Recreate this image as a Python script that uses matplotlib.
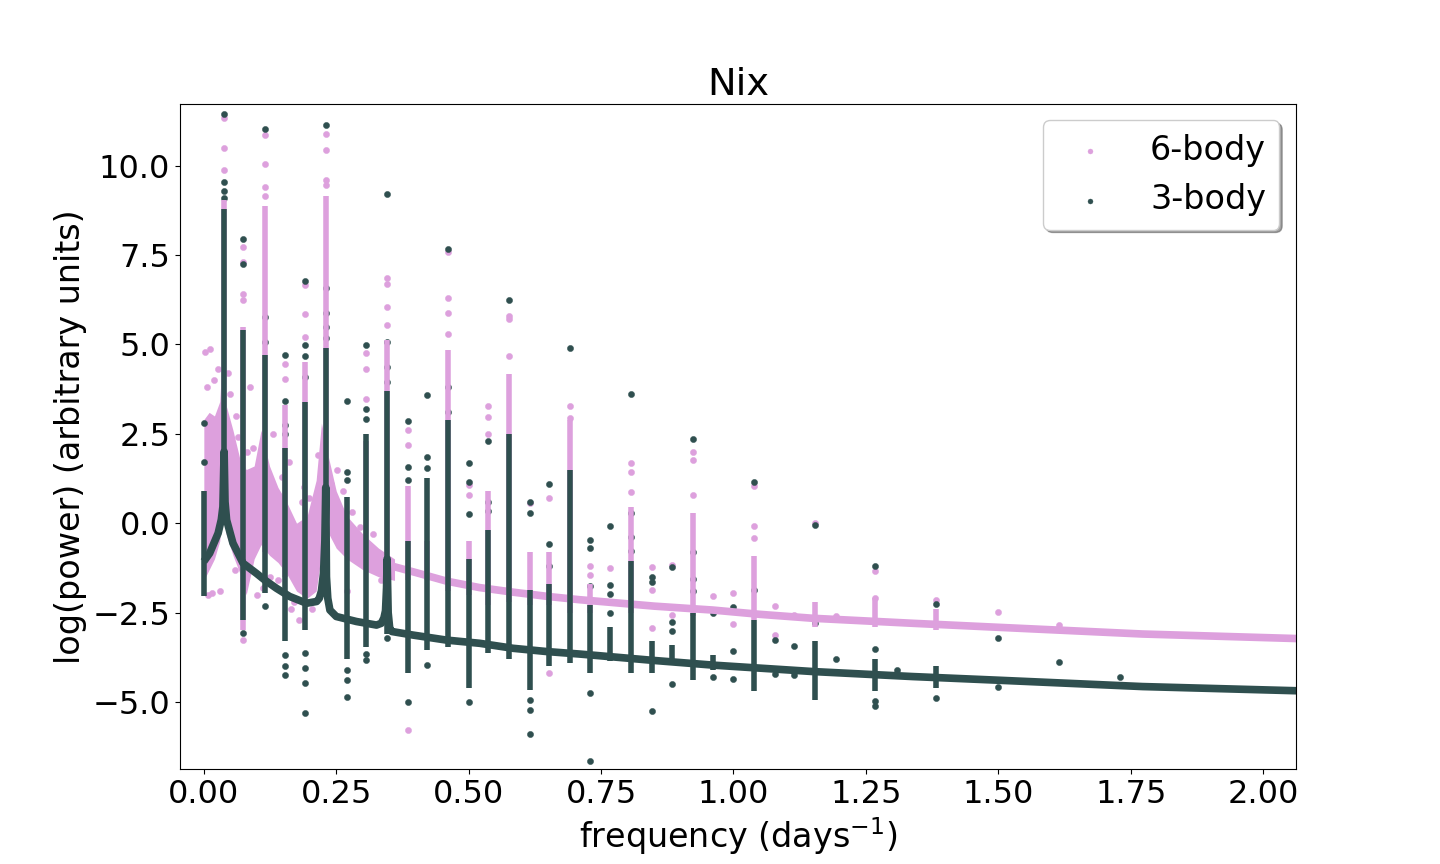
import numpy as np
import matplotlib
matplotlib.use("Agg")
import matplotlib.pyplot as plt

plt.rcParams['xtick.labelsize'] = 23
plt.rcParams['ytick.labelsize'] = 23
plt.rcParams['axes.labelsize'] = 24
plt.rcParams['axes.titlesize'] = 27.6
plt.rcParams['legend.fontsize'] = 24

PINK = '#dda0dd'   # plum
DARK = '#2f4f4f'   # darkslategray

# ---- 6-body (pink) ----
# noisy low-frequency cloud: lower / upper envelope
cloud6_f = [0.000, 0.010, 0.020, 0.030, 0.036, 0.042, 0.055, 0.068, 0.080, 0.095, 0.108, 0.124,
            0.140, 0.156, 0.175, 0.195, 0.212, 0.222, 0.236, 0.250, 0.270, 0.300, 0.330, 0.360]
cloud6_hi = [2.9, 3.1, 3.0, 3.4, 5.0, 3.3, 2.6, 1.8, 1.5, 1.6, 2.6, 1.6,
             1.0, 0.6, 0.0, 0.2, 1.2, 2.8, 1.8, 0.9, 0.2, -0.3, -0.7, -1.0]
cloud6_lo = [-1.6, -1.3, -1.0, -0.5, 0.5, -0.3, -0.9, -1.4, -2.0, -1.0, -0.6, -0.9,
             -1.1, -1.4, -1.9, -2.1, -1.9, -0.9, -0.3, -0.7, -1.0, -1.3, -1.5, -1.6]
# continuum
base6_f = [0.355, 0.40, 0.458, 0.52, 0.584, 0.65, 0.709, 0.741, 0.85, 0.961, 1.05, 1.15,
           1.338, 1.496, 1.772, 2.07]
base6_y = [-1.20, -1.38, -1.62, -1.80, -1.93, -2.05, -2.14, -2.18, -2.32, -2.43, -2.55, -2.66,
           -2.80, -2.91, -3.10, -3.23]
# dense spike columns
spike6_f = [0.0383, 0.0742, 0.1157, 0.1535, 0.1912, 0.2302, 0.307, 0.346, 0.3855, 0.4214,
            0.461, 0.500, 0.5365, 0.576, 0.615, 0.6516, 0.691, 0.730, 0.806, 0.923,
            1.038, 1.153, 1.268, 1.383]
spike6_hi = [9.05, 5.5, 8.86, 3.3, 4.5, 9.14, 2.3, 5.13, 1.03, -0.5,
             4.85, -0.5, 0.9, 4.18, -0.8, -0.8, 2.9, -1.7, 0.46, 0.29,
             -0.93, -2.2, -2.1, -2.4]
spike6_lo = [0.5, -3.0, -0.8, -1.5, -1.5, -1.0, -1.0, -1.5, -1.6, -1.6,
             -1.9, -2.0, -2.3, -2.2, -2.3, -2.3, -2.5, -2.5, -2.5, -2.6,
             -2.7, -2.9, -2.9, -3.0]
# isolated points
dots6_f = [0.0383, 0.0383, 0.0383, 0.0742, 0.0742, 0.0742, 0.0742, 0.0742,
           0.1157, 0.1157, 0.1157, 0.1157, 0.1535, 0.1535, 0.1912, 0.1912, 0.1912,
           0.2302, 0.2302, 0.2302, 0.2302, 0.307, 0.307, 0.307,
           0.346, 0.346, 0.346, 0.346, 0.3855, 0.3855, 0.3855,
           0.461, 0.461, 0.461, 0.461, 0.500, 0.500, 0.5365, 0.5365, 0.5365,
           0.576, 0.576, 0.576, 0.615, 0.6516, 0.6516, 0.691, 0.691,
           0.730, 0.730, 0.767, 0.806, 0.806, 0.806, 0.846, 0.846, 0.846, 0.884, 0.884,
           0.923, 0.923, 0.923, 0.961, 0.999, 0.999, 1.038, 1.038, 1.038,
           1.079, 1.079, 1.114, 1.153, 1.193, 1.268, 1.268, 1.383, 1.499, 1.614,
           0.002, 0.012, 0.020, 0.006, 0.045, 0.060, 0.092, 0.130, 0.160, 0.190,
           0.180, 0.205, 0.140, 0.252, 0.280, 0.320, 0.100, 0.030, 0.088, 0.270,
           0.015, 0.026, 0.050, 0.170, 0.215, 0.008, 0.064, 0.082, 0.125, 0.148,
           0.165, 0.198, 0.240, 0.262, 0.295, 0.335, 0.058, 0.112, 0.185, 0.228]
dots6_y = [11.33, 10.5, 9.88, 7.72, 7.31, 6.41, 6.25, -3.27,
           10.87, 10.05, 9.40, 9.14, 4.45, 4.03, 6.67, 5.85, 5.21,
           10.89, 10.44, 9.61, 9.47, 4.76, 4.31, 3.47,
           6.86, 6.69, 6.05, 5.55, 2.61, 2.18, -5.78,
           7.6, 6.30, 5.88, 5.3, 1.07, 0.8, 3.28, 2.96, 2.5,
           5.80, 5.72, 4.68, 0.57, 0.71, -4.19, 3.28, 2.94,
           -1.19, -1.45, -1.26, 1.68, 1.43, 0.87, -1.23, -1.87, -2.94, -1.17, -2.57,
           2.0, 1.76, 0.79, -2.03, -1.96, -2.83, 1.04, -0.09, -0.42,
           -2.33, -3.13, -2.57, 0.0, -2.6, -1.33, -2.10, -2.15, -2.49, -2.85,
           4.79, 4.87, 4.0, 3.8, 4.2, 3.0, 2.1, 2.5, 1.7, 1.0,
           -2.7, -2.4, -1.6, 1.5, 0.3, -0.3, -2.0, -1.9, 3.8, -1.9,
           -1.95, 4.3, 3.6, -2.2, 1.9, -2.0, 2.4, 2.0, -1.5, 1.3,
           -2.4, 0.7, 1.1, 0.9, -0.1, -1.6, -1.3, -1.8, 0.6, -1.1]

# ---- 3-body (dark) ----
base3_f = [0.000, 0.011, 0.027, 0.033, 0.036, 0.0375, 0.0383, 0.040, 0.043, 0.055, 0.074,
           0.099, 0.115, 0.137, 0.162, 0.194, 0.213, 0.218, 0.222, 0.226, 0.2285, 0.2302,
           0.2315, 0.234, 0.238, 0.250, 0.288, 0.326, 0.335, 0.340, 0.343, 0.345, 0.346,
           0.348, 0.351, 0.355, 0.395, 0.458, 0.521, 0.584, 0.647, 0.709, 0.741, 0.85,
           0.961, 1.15, 1.338, 1.496, 1.772, 2.07]
base3_y = [-1.07, -0.84, -0.28, 0.10, 0.46, 1.5, 2.0, 0.6, 0.09, -0.56, -1.12,
           -1.40, -1.59, -1.82, -2.05, -2.24, -2.19, -2.10, -1.90, -1.40, -0.5, 1.0,
           -1.5, -2.1, -2.43, -2.61, -2.75, -2.85, -2.80, -2.65, -2.45, -1.8, -1.0,
           -2.5, -2.95, -3.03, -3.13, -3.27, -3.36, -3.50, -3.59, -3.66, -3.70, -3.84,
           -3.97, -4.15, -4.29, -4.39, -4.57, -4.69]
spike3_f = [0.000, 0.0383, 0.0742, 0.1157, 0.1535, 0.1912, 0.2302, 0.270, 0.307, 0.346,
            0.3855, 0.4214, 0.461, 0.500, 0.5365, 0.576, 0.615, 0.6516, 0.691, 0.730,
            0.767, 0.806, 0.846, 0.884, 0.923, 0.961, 1.038, 1.153, 1.268, 1.383]
spike3_hi = [0.9, 8.8, 5.4, 4.7, 2.1, 3.4, 4.9, 0.74, 2.5, 3.7,
             -0.5, 1.26, 2.9, -1.0, -0.2, 2.5, -1.87, -1.7, 1.5, -2.3,
             -2.9, -1.07, -3.3, -3.4, -2.5, -3.7, -2.7, -3.3, -3.8, -4.0]
spike3_lo = [-2.05, 0.3, -2.7, -1.95, -3.3, -3.0, -1.8, -3.8, -3.45, -3.1,
             -4.2, -3.55, -3.45, -4.6, -3.64, -3.8, -4.67, -4.0, -3.9, -4.2,
             -3.85, -4.2, -4.2, -3.9, -4.4, -4.1, -4.7, -4.95, -4.7, -4.6]
dots3_f = [0.000, 0.000, 0.0383, 0.0383, 0.0383, 0.0383,
           0.0742, 0.0742, 0.0742, 0.1157, 0.1157, 0.1157, 0.1157,
           0.1535, 0.1535, 0.1535, 0.1535, 0.1535, 0.1535, 0.1535,
           0.1912, 0.1912, 0.1912, 0.1912, 0.1912, 0.1912, 0.1912, 0.1912,
           0.2302, 0.2302, 0.2302, 0.2302, 0.2302,
           0.270, 0.270, 0.270, 0.270, 0.270, 0.270,
           0.307, 0.307, 0.307, 0.307, 0.307,
           0.346, 0.346, 0.346, 0.346, 0.346,
           0.3855, 0.3855, 0.3855, 0.3855, 0.4214, 0.4214, 0.4214, 0.4214,
           0.461, 0.461, 0.461, 0.500, 0.500, 0.500, 0.500,
           0.5365, 0.5365, 0.5365, 0.576,
           0.615, 0.615, 0.615, 0.615, 0.615, 0.6516, 0.6516, 0.6516, 0.691,
           0.730, 0.730, 0.730, 0.730, 0.730, 0.767, 0.767, 0.767, 0.767,
           0.806, 0.806, 0.806, 0.806, 0.846, 0.846, 0.846,
           0.884, 0.884, 0.884, 0.884, 0.923, 0.923, 0.923, 0.923,
           0.961, 0.961, 0.999, 0.999, 0.999, 1.038, 1.038,
           1.079, 1.079, 1.114, 1.114, 1.153, 1.153, 1.193,
           1.268, 1.268, 1.268, 1.268, 1.308, 1.383, 1.383,
           1.499, 1.499, 1.614, 1.729]
dots3_y = [2.8, 1.7, 11.45, 9.55, 9.28, 9.1,
           7.95, 7.25, -3.08, 11.03, 5.77, 5.07, -2.31,
           4.70, 3.42, 2.75, 2.49, -3.7, -4.0, -4.25,
           6.77, 4.98, 4.67, 4.1, -3.64, -4.05, -4.47, -5.31,
           11.14, 6.58, 5.88, 5.49, 5.19,
           3.42, 1.44, 1.2, -4.1, -4.4, -4.85,
           4.98, 3.19, 2.91, -3.65, -3.83,
           9.21, 5.06, 4.37, 3.96, -3.22,
           2.85, 1.58, 1.2, -4.99, 3.59, 1.85, 1.54, -3.97,
           7.67, 3.80, 3.10, 1.68, 1.16, 0.25, -4.99,
           2.30, 0.60, 0.33, 6.24,
           0.60, 0.28, -4.95, -5.23, -5.9, 1.09, -0.59, -1.2, 4.91,
           -0.47, -0.70, -1.77, -4.76, -6.65, -0.09, -1.73, -1.99, -2.52,
           3.61, 0.29, -0.39, -0.79, -1.51, -1.65, -5.26,
           -1.22, -2.77, -3.02, -4.5, 2.35, -0.81, -1.55, -1.9,
           -2.5, -4.31, -2.35, -3.57, -4.36, 1.15, -1.87,
           -3.28, -4.21, -3.43, -4.24, -0.05, -2.8, -3.81,
           -1.19, -3.52, -4.97, -5.1, -4.1, -2.26, -4.9,
           -3.22, -4.58, -3.89, -4.31]

fig, ax = plt.subplots(figsize=(14.4, 8.64), dpi=100)

# 6-body
ax.fill_between(cloud6_f, cloud6_lo, cloud6_hi, color=PINK, linewidth=0)
ax.plot(base6_f, base6_y, color=PINK, lw=5.5, solid_capstyle='butt', solid_joinstyle='round')
ax.vlines(spike6_f, spike6_lo, spike6_hi, color=PINK, lw=4)
pts6 = ax.scatter(dots6_f, dots6_y, s=20, color=PINK, edgecolors=PINK, linewidths=0.3,
                  label='6-body')

# 3-body
ax.plot(base3_f, base3_y, color=DARK, lw=5.5, solid_capstyle='butt', solid_joinstyle='round')
ax.vlines(spike3_f, spike3_lo, spike3_hi, color=DARK, lw=4)
pts3 = ax.scatter(dots3_f, dots3_y, s=20, color=DARK, edgecolors=DARK, linewidths=0.3,
                  label='3-body')

ax.set_xlim(-0.045, 2.062)
ax.set_ylim(-6.875, 11.735)

ax.set_title("Nix")
ax.set_xlabel("frequency (days$^{-1}$)")
ax.set_ylabel("log(power) (arbitrary units)")
ax.legend(handles=[pts6, pts3], loc='upper right', shadow=True, markerscale=0.8)

fig.savefig("out.png", dpi=100)
